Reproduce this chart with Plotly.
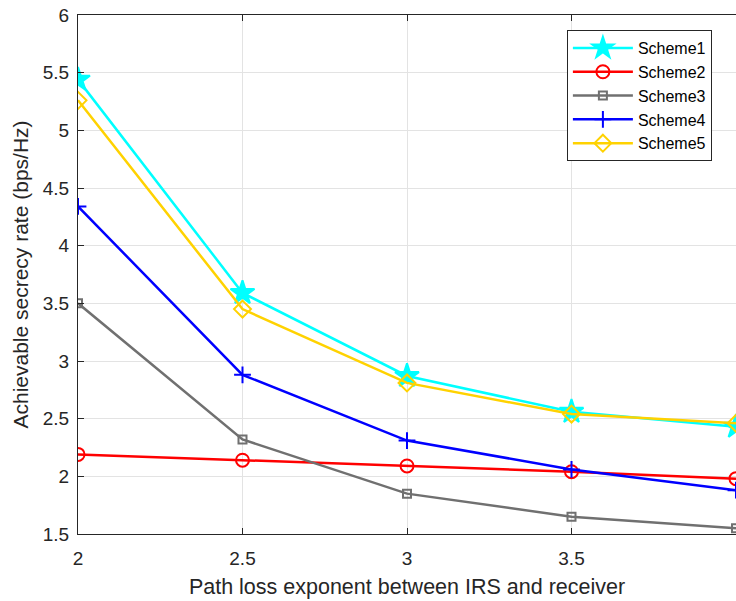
import plotly.graph_objects as go

x = [2, 2.5, 3, 3.5, 4]
scheme1 = [5.44, 3.59, 2.87, 2.56, 2.43]
scheme2 = [2.19, 2.14, 2.09, 2.04, 1.98]
scheme3 = [3.50, 2.32, 1.85, 1.65, 1.55]
scheme4 = [4.34, 2.88, 2.31, 2.06, 1.88]
scheme5 = [5.26, 3.45, 2.81, 2.54, 2.46]
names = ["Scheme1", "Scheme2", "Scheme3", "Scheme4", "Scheme5"]
xtick_vals = [2, 2.5, 3, 3.5, 4]
xtick_text = ["2", "2.5", "3", "3.5", "4"]
ytick_vals = [1.5, 2, 2.5, 3, 3.5, 4, 4.5, 5, 5.5, 6]
ytick_text = ["1.5", "2", "2.5", "3", "3.5", "4", "4.5", "5", "5.5", "6"]

series = [scheme1, scheme2, scheme3, scheme4, scheme5]
colors = ["#00FFFF", "#FF0000", "#707070", "#0000FF", "#FFD200"]
symbols = ["star", "circle-open", "square-open", "cross-thin-open", "diamond-open"]
sizes = [18, 13, 8, 12, 13]

fig = go.Figure()
for name, ys, c, s, sz in zip(names, series, colors, symbols, sizes):
    fig.add_trace(go.Scatter(
        x=x, y=ys, name=name, mode="lines+markers",
        line=dict(color=c, width=2.5),
        marker=dict(symbol=s, size=sz, color=c, line=dict(color=c, width=2)),
    ))

font = "Liberation Sans, Arial, sans-serif"
fig.update_layout(
    width=736, height=601,
    margin=dict(l=78, r=0, t=15, b=67),
    paper_bgcolor="white", plot_bgcolor="white",
    font=dict(family=font, size=19, color="#262626"),
    showlegend=True,
    legend=dict(
        x=0.743, y=0.971, xanchor="left", yanchor="top",
        bgcolor="white", bordercolor="#262626", borderwidth=1,
        font=dict(size=16, color="#000000"),
        tracegroupgap=0, itemwidth=60,
    ),
)
fig.update_xaxes(
    range=[2, 4], tickvals=xtick_vals, ticktext=xtick_text,
    showgrid=True, gridcolor="#E3E3E3", gridwidth=1,
    showline=True, linecolor="#262626", linewidth=1, mirror="ticks",
    ticks="inside", ticklen=6, tickcolor="#262626",
    zeroline=False, ticklabelstandoff=7,
    title=dict(text="Path loss exponent between IRS and receiver", font=dict(size=21.5), standoff=11),
    tickfont=dict(size=19),
)
fig.update_yaxes(
    range=[1.5, 6], tickvals=ytick_vals, ticktext=ytick_text,
    showgrid=True, gridcolor="#E3E3E3", gridwidth=1,
    showline=True, linecolor="#262626", linewidth=1, mirror=False,
    ticks="inside", ticklen=6, tickcolor="#262626",
    zeroline=False, ticklabelstandoff=4,
    title=dict(text="Achievable secrecy rate (bps/Hz)", font=dict(size=21), standoff=8),
    tickfont=dict(size=19),
)

fig.write_html("out.html")
